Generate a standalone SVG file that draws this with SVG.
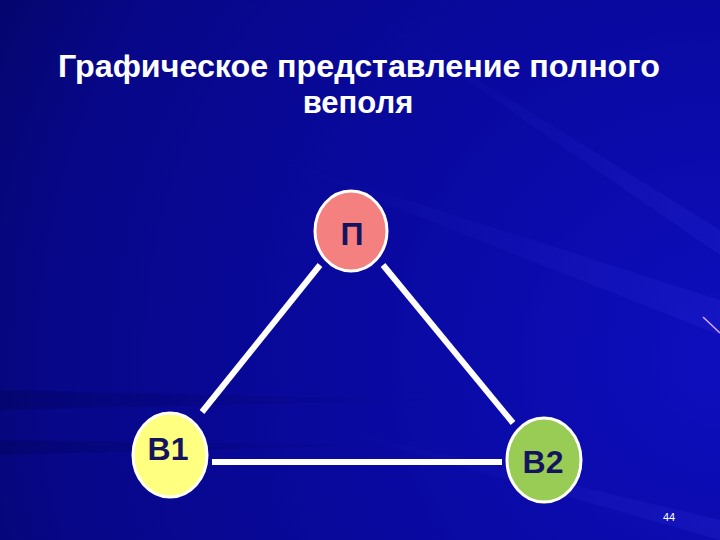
<svg xmlns="http://www.w3.org/2000/svg" width="720" height="540" viewBox="0 0 720 540">
<defs>
<radialGradient id="bg" cx="720" cy="360" r="900" gradientUnits="userSpaceOnUse">
<stop offset="0" stop-color="#0e0ebe"/>
<stop offset="0.4" stop-color="#0909a0"/>
<stop offset="0.75" stop-color="#070788"/>
<stop offset="1" stop-color="#04045a"/>
</radialGradient>
<linearGradient id="ray" x1="0" y1="0" x2="1" y2="0">
<stop offset="0" stop-color="#5050ff" stop-opacity="0"/>
<stop offset="1" stop-color="#5050ff" stop-opacity="0.2"/>
</linearGradient>
<linearGradient id="dark" x1="0" y1="0" x2="1" y2="0">
<stop offset="0" stop-color="#030350" stop-opacity="0.5"/>
<stop offset="1" stop-color="#030350" stop-opacity="0"/>
</linearGradient>
<style>
.title{font-family:"Liberation Sans",Arial,sans-serif;font-weight:bold;font-size:31px;fill:#ffffff;text-anchor:middle}
.node ellipse{stroke:#ffffff;stroke-width:3}
.node text{font-family:"Liberation Sans",Arial,sans-serif;font-weight:bold;font-size:32px;fill:#14145e;text-anchor:middle}
.edge{stroke:#ffffff;stroke-width:6;fill:none}
</style>
</defs>
<rect width="720" height="540" fill="url(#bg)"/>
<g id="rays" opacity="0.6">
<polygon points="250,150 720,300 720,335" fill="url(#ray)"/>
<polygon points="350,0 720,230 720,255" fill="url(#ray)"/>
<polygon points="300,420 720,520 720,540" fill="url(#ray)"/>
<polygon points="0,390 450,400 0,410" fill="url(#dark)"/>
<polygon points="0,440 400,445 0,455" fill="url(#dark)"/>
</g>
<line x1="703" y1="317" x2="720" y2="333" stroke="#d8a8ff" stroke-width="1.5"/>
<text class="title" x="359" y="77" textLength="602" lengthAdjust="spacingAndGlyphs">Графическое представление полного</text>
<text class="title" x="358" y="113">веполя</text>
<g id="connectors">
<line class="edge" x1="320" y1="265" x2="202" y2="412"/>
<line class="edge" x1="383" y1="265" x2="513" y2="423"/>
<line class="edge" x1="212" y1="462" x2="502" y2="462"/>
</g>
<g id="node-P" class="node">
<ellipse cx="351" cy="231" rx="36" ry="40" fill="#f48080"/>
<text x="352" y="245">П</text>
</g>
<g id="node-B1" class="node">
<ellipse cx="170" cy="455" rx="37" ry="42" fill="#ffff80"/>
<text x="168" y="460">B1</text>
</g>
<g id="node-B2" class="node">
<ellipse cx="544" cy="460" rx="37" ry="42" fill="#99cc55"/>
<text x="543" y="473">B2</text>
</g>
<text x="669" y="521" font-family="Liberation Sans Narrow,Liberation Sans,Arial,sans-serif" font-size="11" fill="#ffffff" text-anchor="middle">44</text>
</svg>
